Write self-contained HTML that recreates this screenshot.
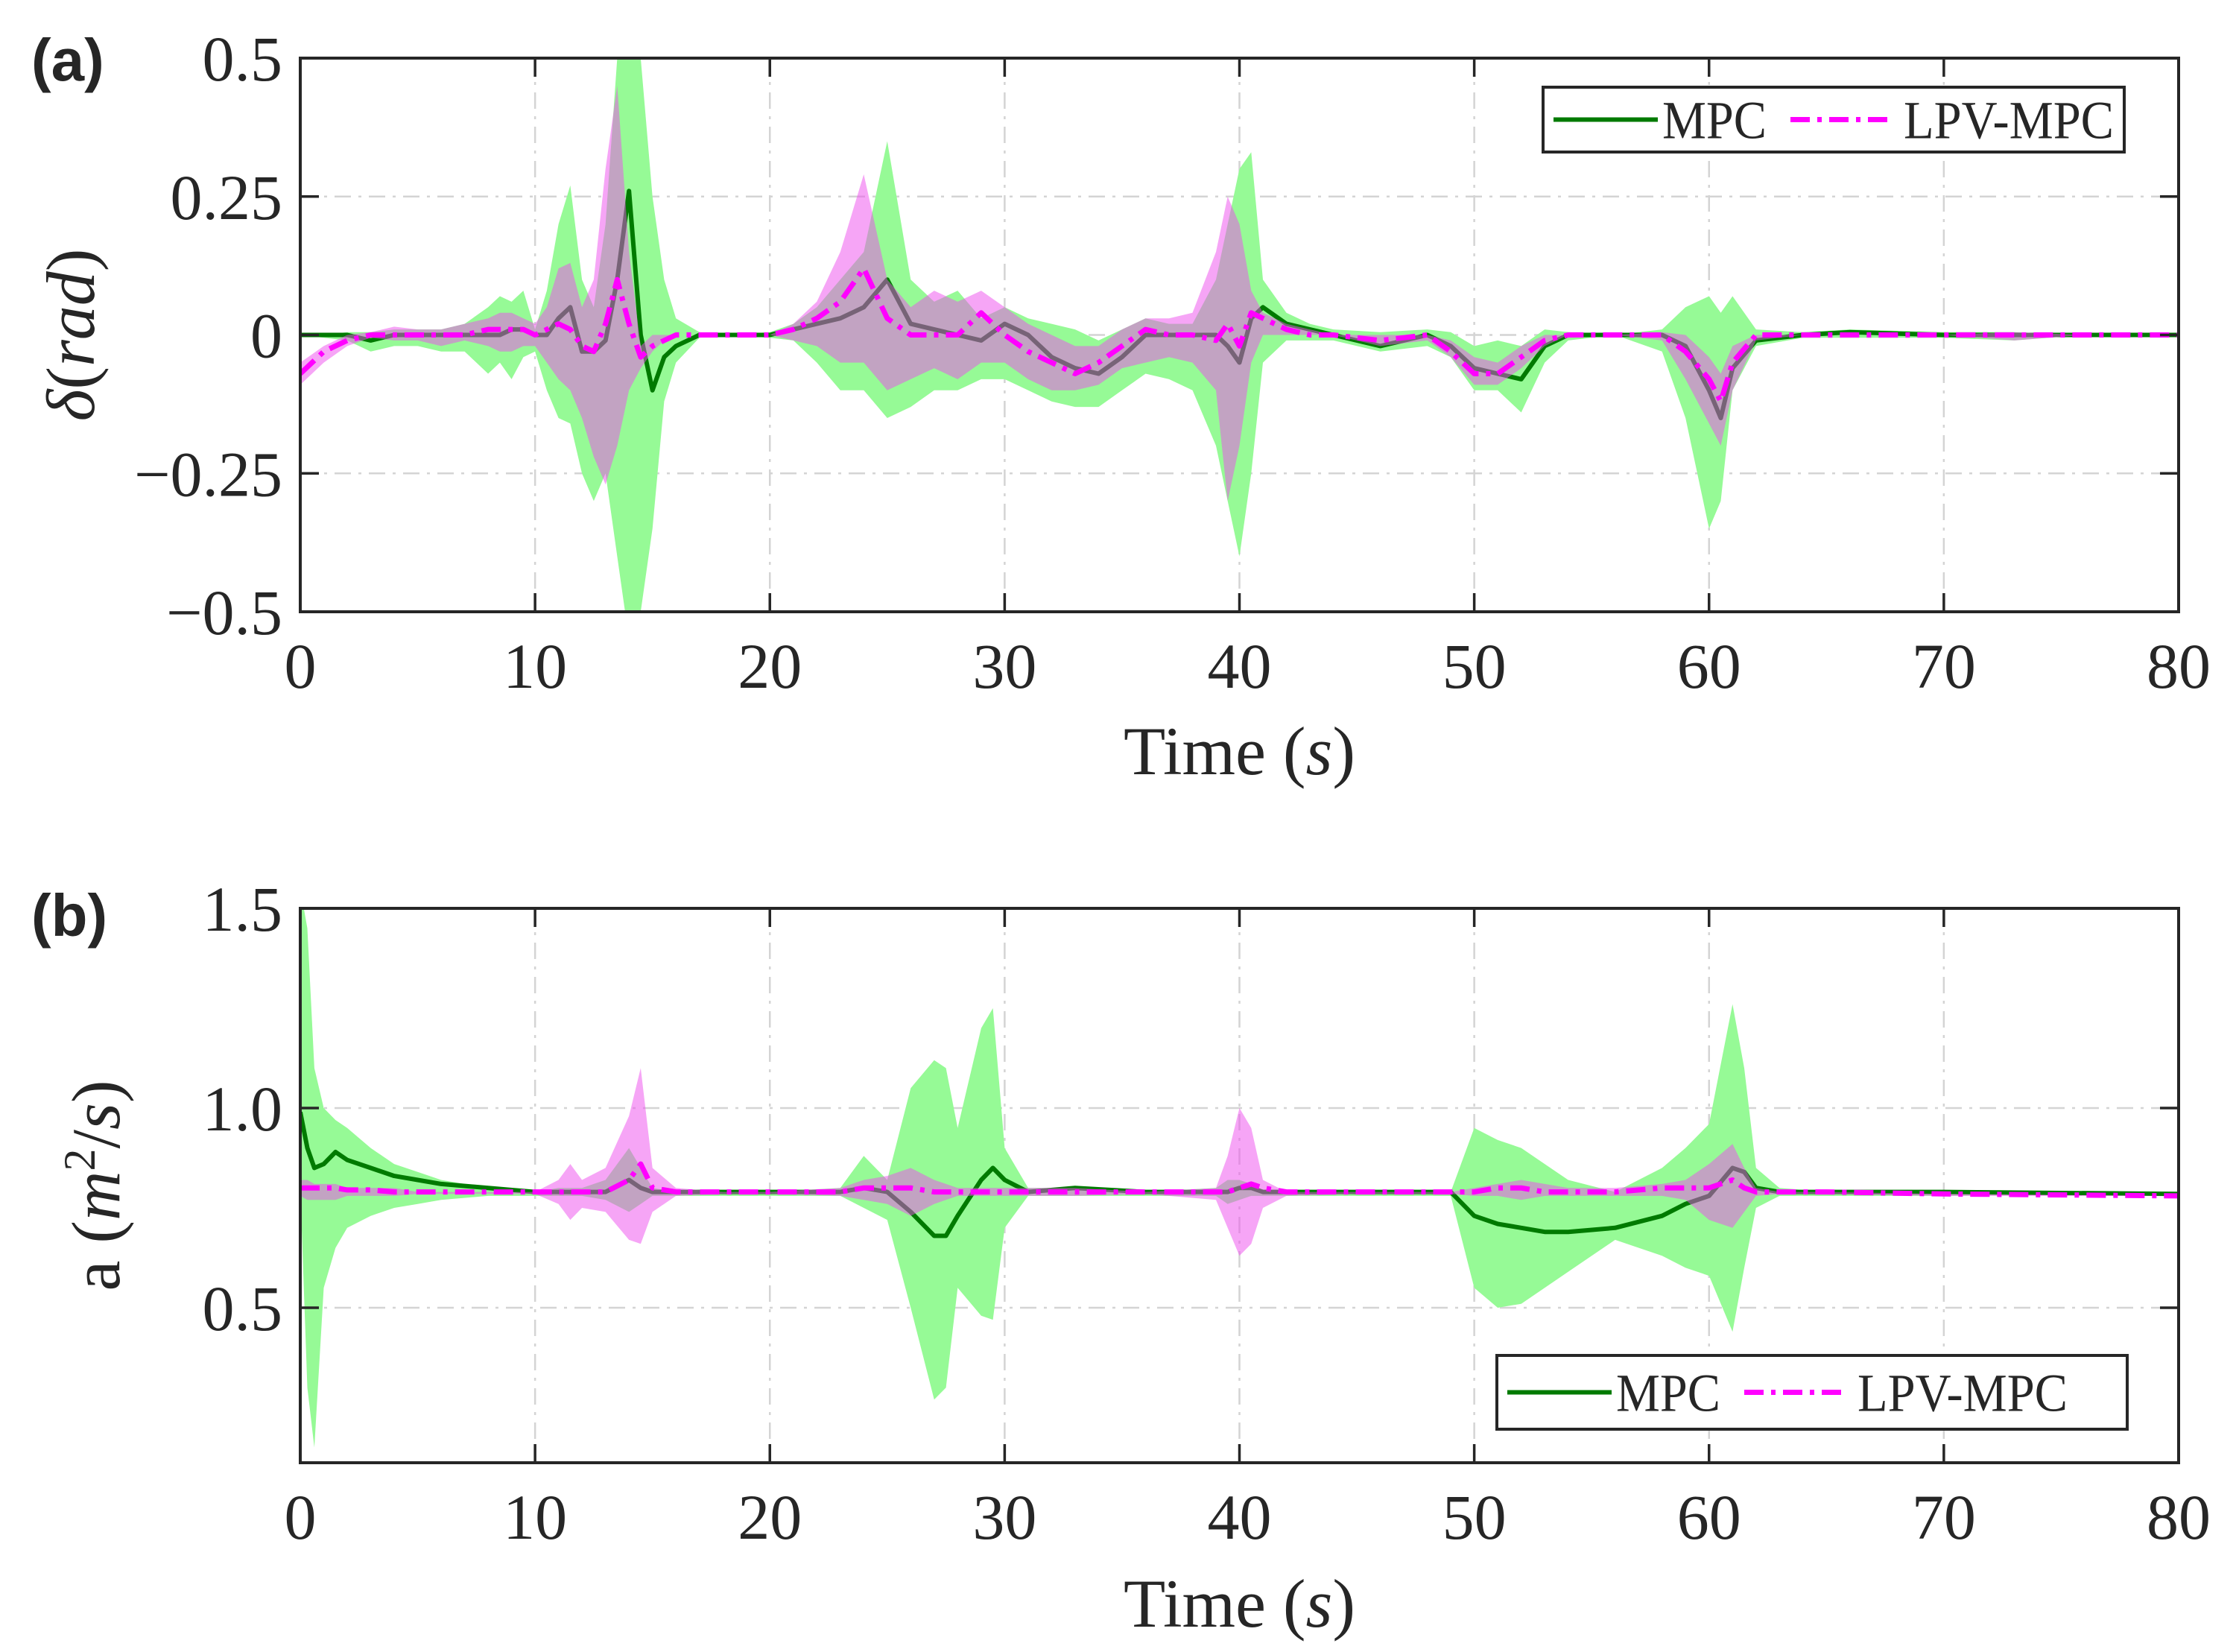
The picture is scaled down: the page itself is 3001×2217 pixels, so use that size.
<!DOCTYPE html>
<html><head><meta charset="utf-8"><style>
html,body{margin:0;padding:0;background:#fff;}
svg{display:block;}
text{font-family:"Liberation Serif",serif;fill:#262626;}
</style></head><body>
<svg id="fig" width="3001" height="2217" viewBox="0 0 3001 2217" xmlns="http://www.w3.org/2000/svg"></svg>
<script>
// ---------- Panel (a): steering angle delta ----------
const tA = [0,1,2,3,4,5,6,7,8,8.5,9,9.5,10,10.5,11,11.5,12,12.5,13,13.5,14,14.5,15,15.5,16,17,18,20,21,22,23,24,25,26,27,28,29,30,31,32,33,34,35,36,37,38,39,39.5,40,40.5,41,42,43,44,46,48,49,50,51,52,53,54,56,58,59,60,60.5,61,62,64,66,70,73,76,80];
const mpcA = [0,0,0,-0.01,0,0,0,0,0,0,0.01,0.01,0,0,0.03,0.05,-0.03,-0.03,-0.01,0.1,0.26,0,-0.1,-0.04,-0.02,0,0,0,0.01,0.02,0.03,0.05,0.1,0.02,0.01,0,-0.01,0.02,0,-0.04,-0.06,-0.07,-0.04,0,0,0,0,-0.02,-0.05,0.03,0.05,0.02,0.01,0,-0.02,0,-0.02,-0.06,-0.07,-0.08,-0.02,0,0,0,-0.02,-0.1,-0.15,-0.06,-0.01,0,0.005,0,0,0,0];
const mpcHiA = [0,0,0.005,0.005,0.01,0.01,0.01,0.02,0.05,0.07,0.06,0.08,0.01,0.08,0.2,0.27,0.1,0.05,0.2,0.5,0.55,0.5,0.25,0.1,0.03,0.005,0,0.005,0.02,0.05,0.1,0.15,0.35,0.1,0.06,0.08,0.03,0.05,0.03,0.02,0.01,-0.01,0.01,0.03,0.02,0.02,0.1,0.2,0.3,0.33,0.1,0.04,0.02,0.01,0.005,0.01,0.005,-0.02,-0.01,-0.02,0.01,0.005,0,0.01,0.05,0.07,0.04,0.07,0.01,0.005,0.01,0.005,0.005,0,0];
const mpcLoA = [0,-0.005,-0.01,-0.03,-0.02,-0.02,-0.03,-0.03,-0.07,-0.05,-0.08,-0.04,-0.03,-0.1,-0.15,-0.16,-0.25,-0.3,-0.25,-0.4,-0.55,-0.5,-0.35,-0.12,-0.05,-0.005,0,-0.005,-0.01,-0.05,-0.1,-0.1,-0.15,-0.13,-0.1,-0.1,-0.08,-0.08,-0.1,-0.12,-0.13,-0.13,-0.1,-0.07,-0.08,-0.1,-0.2,-0.3,-0.4,-0.25,-0.05,-0.01,-0.01,-0.01,-0.03,-0.02,-0.04,-0.1,-0.1,-0.14,-0.05,-0.01,0,-0.03,-0.15,-0.35,-0.3,-0.1,-0.02,-0.005,-0.005,-0.005,-0.01,0,0];
const lpvA = [-0.07,-0.03,-0.01,0,0,0,0,0,0.01,0.01,0.01,0.01,0,0.01,0.02,0.01,-0.02,-0.03,0.02,0.1,0.02,-0.04,-0.02,-0.01,0,0,0,0,0.01,0.03,0.06,0.12,0.03,0,0,0,0.04,0,-0.03,-0.05,-0.07,-0.05,-0.02,0.01,0,0,-0.01,0.02,-0.02,0.04,0.03,0.01,0,0,-0.01,0,-0.03,-0.07,-0.07,-0.04,-0.01,0,0,0,-0.03,-0.08,-0.12,-0.05,0,0,0,0,0,0,0];
const lpvHiA = [-0.05,-0.02,0,0.005,0.015,0.01,0.01,0.02,0.03,0.04,0.04,0.03,0.02,0.05,0.12,0.13,0.05,0.1,0.3,0.45,0.15,-0.02,0,0,0,0,0,0,0.02,0.06,0.15,0.29,0.1,0.05,0.08,0.06,0.08,0.05,0.02,0,-0.02,-0.02,0.01,0.03,0.03,0.04,0.15,0.25,0.2,0.08,0.04,0.02,0.01,0,0,0,-0.01,-0.04,-0.05,-0.02,0,0,0,0.005,0,-0.04,-0.07,-0.02,0,0,0,0,0.005,0,0];
const lpvLoA = [-0.09,-0.05,-0.02,-0.005,-0.01,-0.01,-0.02,-0.01,-0.02,-0.03,-0.03,-0.02,-0.02,-0.05,-0.08,-0.1,-0.15,-0.22,-0.27,-0.2,-0.1,-0.06,-0.03,-0.01,0,0,0,0,-0.01,-0.02,-0.05,-0.05,-0.1,-0.08,-0.06,-0.08,-0.05,-0.05,-0.08,-0.1,-0.1,-0.09,-0.06,-0.05,-0.04,-0.05,-0.1,-0.3,-0.2,-0.05,0,0,0,0,-0.02,-0.01,-0.04,-0.09,-0.09,-0.06,-0.02,0,0,-0.01,-0.08,-0.16,-0.2,-0.1,-0.01,0,0,0,-0.01,0,0];
const yTicksA = [0.5,0.25,0,-0.25,-0.5];
const yTickLabelsA = ["0.5","0.25","0","\u22120.25","\u22120.5"];

// ---------- Panel (b): acceleration ----------
const tB = [0,0.3,0.6,1,1.5,2,3,4,5,6,8,10,11,11.5,12,13,14,14.5,15,16,18,20,23,24,25,26,27,27.5,28,29,29.5,30,31,33,36,39,39.5,40,40.5,41,42,45,49,50,51,52,53,54,56,58,59,60,61,61.5,62,63,65,70,80];
const mpcB = [0.99,0.9,0.85,0.86,0.89,0.87,0.85,0.83,0.82,0.81,0.8,0.79,0.79,0.79,0.79,0.79,0.82,0.8,0.79,0.79,0.79,0.79,0.79,0.8,0.79,0.74,0.68,0.68,0.73,0.82,0.85,0.82,0.79,0.8,0.79,0.79,0.79,0.8,0.8,0.79,0.79,0.79,0.79,0.73,0.71,0.7,0.69,0.69,0.7,0.73,0.76,0.78,0.85,0.84,0.8,0.79,0.79,0.79,0.785];
const mpcHiB = [1.55,1.45,1.1,1.0,0.97,0.95,0.9,0.86,0.84,0.82,0.8,0.79,0.8,0.8,0.8,0.82,0.9,0.85,0.8,0.79,0.79,0.79,0.8,0.88,0.82,1.05,1.12,1.1,0.95,1.2,1.25,0.9,0.8,0.8,0.79,0.8,0.82,0.82,0.81,0.79,0.79,0.79,0.79,0.95,0.92,0.9,0.86,0.82,0.79,0.85,0.9,0.96,1.26,1.1,0.85,0.8,0.79,0.79,0.785];
const mpcLoB = [0.8,0.3,0.15,0.55,0.65,0.7,0.73,0.75,0.76,0.77,0.78,0.78,0.78,0.78,0.78,0.77,0.74,0.76,0.78,0.78,0.78,0.78,0.78,0.75,0.72,0.5,0.27,0.3,0.55,0.48,0.47,0.7,0.78,0.78,0.78,0.78,0.76,0.77,0.78,0.78,0.78,0.78,0.78,0.55,0.5,0.51,0.55,0.59,0.67,0.63,0.6,0.58,0.44,0.6,0.75,0.78,0.78,0.78,0.785];
const lpvB = [0.8,0.8,0.8,0.8,0.8,0.795,0.795,0.79,0.79,0.79,0.79,0.79,0.79,0.79,0.79,0.79,0.82,0.86,0.8,0.79,0.79,0.79,0.79,0.8,0.8,0.8,0.79,0.79,0.79,0.79,0.79,0.79,0.79,0.79,0.79,0.79,0.79,0.8,0.81,0.8,0.79,0.79,0.79,0.79,0.8,0.8,0.79,0.79,0.79,0.8,0.8,0.8,0.82,0.8,0.79,0.79,0.79,0.785,0.78];
const lpvHiB = [0.82,0.82,0.81,0.81,0.81,0.8,0.8,0.8,0.79,0.79,0.79,0.79,0.82,0.86,0.82,0.85,0.98,1.1,0.85,0.8,0.79,0.79,0.8,0.82,0.83,0.85,0.82,0.81,0.8,0.8,0.8,0.8,0.8,0.8,0.79,0.8,0.88,1.0,0.95,0.82,0.79,0.79,0.79,0.8,0.81,0.82,0.81,0.8,0.8,0.81,0.82,0.86,0.91,0.85,0.8,0.79,0.79,0.785,0.78];
const lpvLoB = [0.78,0.77,0.77,0.77,0.77,0.78,0.78,0.78,0.785,0.785,0.785,0.785,0.76,0.72,0.75,0.74,0.67,0.66,0.74,0.78,0.785,0.785,0.78,0.77,0.76,0.73,0.76,0.77,0.78,0.78,0.78,0.78,0.78,0.78,0.785,0.77,0.7,0.63,0.66,0.75,0.78,0.785,0.785,0.78,0.78,0.77,0.78,0.78,0.78,0.78,0.77,0.72,0.7,0.74,0.78,0.785,0.785,0.78,0.78];
const yTicksB = [1.5,1.0,0.5];
const yTickLabelsB = ["1.5","1.0","0.5"];

const xTicks = [0,10,20,30,40,50,60,70,80];
const xTickLabels = ["0","10","20","30","40","50","60","70","80"];

const NS = "http://www.w3.org/2000/svg";
const svg = document.getElementById('fig');
function mk(tag, attrs, parent){
  const e = document.createElementNS(NS, tag);
  for (const k in attrs) e.setAttribute(k, attrs[k]);
  (parent||svg).appendChild(e);
  return e;
}

function panel(cfg){
  const L=403, R=2924, T=cfg.top, B=cfg.bottom;
  const xs = v => L + (v-0)/(80-0)*(R-L);
  const ys = v => B - (v-cfg.ymin)/(cfg.ymax-cfg.ymin)*(B-T);
  const g = mk('g', {});
  
  
  const clipId = cfg.name+'-clip';
  const cp = mk('clipPath', {id: clipId}, g);
  mk('rect', {x:L, y:T, width:R-L, height:B-T}, cp);
  const grid = mk('g', {stroke:'#d4d4d4', 'stroke-width':2.5, 'stroke-dasharray':'22 10 4 10'}, g);
  
  
  xTicks.forEach(v => { if(v>0&&v<80) mk('line', {x1:xs(v), x2:xs(v), y1:T, y2:B}, grid); });
  cfg.yTicks.forEach(v => { if(v<cfg.ymax && v>cfg.ymin) mk('line', {x1:L, x2:R, y1:ys(v), y2:ys(v)}, grid); });

  const data = mk('g', {'clip-path':'url(#'+clipId+')'}, g);
  function band(t, lo, hi, fill, name){
    let d = '';
    t.forEach((v,i)=>{ d += (i?'L':'M') + xs(v).toFixed(1) + ' ' + ys(hi[i]).toFixed(1); });
    for (let i=t.length-1;i>=0;i--) d += 'L' + xs(t[i]).toFixed(1) + ' ' + ys(lo[i]).toFixed(1);
    const p = mk('path', {d: d+'Z', fill: fill, stroke:'none'}, data);
    
    
  }
  function line(t, y, stroke, w, dash, name){
    const pts = t.map((v,i)=> xs(v).toFixed(1)+','+ys(y[i]).toFixed(1)).join(' ');
    const a = {points: pts, fill:'none', stroke: stroke, 'stroke-width': w, 'stroke-linejoin':'round'};
    if (dash) a['stroke-dasharray'] = dash;
    const p = mk('polyline', a, data);
    
    
  }
  band(cfg.t, cfg.mpcLo, cfg.mpcHi, 'rgb(150,250,150)', cfg.name+'-mpc-band');
  line(cfg.t, cfg.mpc, '#007a00', 6, null, cfg.name+'-mpc-line');
  band(cfg.t, cfg.lpvLo, cfg.lpvHi, 'rgba(238,76,238,0.5)', cfg.name+'-lpv-band');
  line(cfg.t, cfg.lpv, '#ff00ff', 7, '26 10 6 10', cfg.name+'-lpv-line');

  const fr = mk('rect', {x:L, y:T, width:R-L, height:B-T, fill:'none', stroke:'#262626', 'stroke-width':4}, g);
  
  
  const tk = mk('g', {stroke:'#262626', 'stroke-width':3.5}, g);
  xTicks.forEach(v => {
    mk('line', {x1:xs(v), x2:xs(v), y1:B, y2:B-25}, tk);
    mk('line', {x1:xs(v), x2:xs(v), y1:T, y2:T+25}, tk);
  });
  cfg.yTicks.forEach(v => {
    mk('line', {x1:L, x2:L+25, y1:ys(v), y2:ys(v)}, tk);
    mk('line', {x1:R, x2:R-25, y1:ys(v), y2:ys(v)}, tk);
  });
  xTicks.forEach((v,i) => {
    const tx = mk('text', {x:xs(v), y:B+102, 'font-size':86, 'text-anchor':'middle'}, g);
    tx.textContent = xTickLabels[i];
    
    
  });
  cfg.yTicks.forEach((v,i) => {
    const tx = mk('text', {x:L-24, y:ys(v)+30, 'font-size':86, 'text-anchor':'end'}, g);
    tx.textContent = cfg.yLabels[i];
    
    
  });
  const xt = mk('text', {x:(L+R)/2, y:cfg.xTitleY, 'font-size':92, 'text-anchor':'middle'}, g);
  xt.innerHTML = 'Time (<tspan font-style="italic">s</tspan>)';
  
  
  const yt = mk('text', {x:0, y:0, 'font-size':92, 'text-anchor':'middle', transform:'translate('+cfg.yTitleX+','+((T+B)/2)+') rotate(-90)'}, g);
  yt.innerHTML = cfg.yTitle;
  
  
  const pl = mk('text', {x:42, y:cfg.labelY, 'font-size':80, 'font-weight':'bold', style:'font-family:"Liberation Sans",sans-serif', fill:'#000'}, g);
  pl.textContent = cfg.label;
  
  
  const lg = mk('g', {}, g);
  
  
  const lx=cfg.legX, ly=cfg.legY, lw=cfg.legW, lh=cfg.legH;
  mk('rect', {x:lx, y:ly, width:lw, height:lh, fill:'#fff', stroke:'#262626', 'stroke-width':4}, lg);
  const cy = ly + lh/2;
  const e1 = mk('g', {}, lg);
  
  
  mk('line', {x1:lx+14, x2:lx+154, y1:cy, y2:cy, stroke:'#007a00', 'stroke-width':6}, e1);
  const t1 = mk('text', {x:lx+160, y:cy+25, 'font-size':72, textLength:140, lengthAdjust:'spacingAndGlyphs'}, e1); t1.textContent='MPC';
  const e2 = mk('g', {}, lg);
  
  
  mk('line', {x1:lx+332, x2:lx+472, y1:cy, y2:cy, stroke:'#ff00ff', 'stroke-width':7, 'stroke-dasharray':'26 10 6 10'}, e2);
  const t2 = mk('text', {x:lx+484, y:cy+25, 'font-size':72, textLength:282, lengthAdjust:'spacingAndGlyphs'}, e2); t2.textContent='LPV-MPC';
}

panel({name:'panel-a', top:78, bottom:821, ymin:-0.5, ymax:0.5, t:tA,
  mpc:mpcA, mpcHi:mpcHiA, mpcLo:mpcLoA, lpv:lpvA, lpvHi:lpvHiA, lpvLo:lpvLoA,
  yTicks:yTicksA, yLabels:yTickLabelsA, xTitleY:1039, yTitleX:126,
  yTitle:'<tspan font-style="italic">δ</tspan>(<tspan font-style="italic">rad</tspan>)',
  label:'(a)', labelY:108, legX:2071, legY:117, legW:780, legH:87});

panel({name:'panel-b', top:1219, bottom:1963, ymin:0.112, ymax:1.5, t:tB,
  mpc:mpcB, mpcHi:mpcHiB, mpcLo:mpcLoB, lpv:lpvB, lpvHi:lpvHiB, lpvLo:lpvLoB,
  yTicks:yTicksB, yLabels:yTickLabelsB, xTitleY:2183, yTitleX:160,
  yTitle:'a (<tspan font-style="italic">m</tspan><tspan baseline-shift="super" font-size="60">2</tspan>/<tspan font-style="italic">s</tspan>)',
  label:'(b)', labelY:1256, legX:2009, legY:1819, legW:846, legH:99});
</script>
</body></html>
